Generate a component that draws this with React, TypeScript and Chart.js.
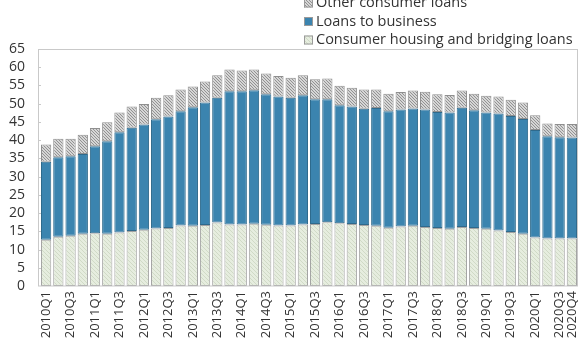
import React, { useEffect, useRef } from "react";
import { Chart, registerables } from "chart.js";

Chart.register(...registerables);

const quarters: string[] = [];
for (let y = 2010; y <= 2020; y++) for (let q = 1; q <= 4; q++) quarters.push(`${y}Q${q}`);

const housing = [
  12.7, 13.5, 13.8, 14.3, 14.5, 14.3, 14.7, 15.1, 15.4, 15.8, 15.9, 16.6, 16.5, 16.7, 17.4, 16.9,
  16.9, 17.1, 16.8, 16.6, 16.6, 16.9, 17.0, 17.5, 17.2, 17.0, 16.7, 16.5, 16.0, 16.3, 16.5, 16.2,
  15.9, 15.7, 16.2, 15.9, 15.7, 15.2, 14.8, 14.3, 13.3, 13.0, 13.0, 13.0,
];
const business = [
  21.4, 21.8, 21.8, 21.9, 23.8, 25.4, 27.5, 28.3, 28.9, 29.9, 30.6, 31.3, 32.5, 33.6, 34.2, 36.5,
  36.5, 36.6, 35.8, 35.4, 35.0, 35.4, 34.2, 33.7, 32.4, 32.2, 31.9, 32.3, 31.9, 32.1, 32.2, 32.2,
  31.8, 31.9, 32.7, 32.3, 31.9, 32.1, 31.8, 31.5, 29.5, 28.1, 27.8, 27.7,
];
const other = [
  4.7, 5.1, 4.8, 5.3, 5.0, 5.2, 5.4, 5.8, 5.6, 5.9, 5.8, 6.0, 5.7, 5.8, 6.2, 6.0,
  5.7, 5.7, 5.7, 5.6, 5.5, 5.5, 5.5, 5.7, 5.3, 5.2, 5.3, 5.1, 4.8, 4.8, 4.9, 4.9,
  4.9, 4.8, 4.7, 4.5, 4.6, 4.7, 4.5, 4.5, 4.0, 3.5, 3.6, 3.7,
];
const seriesNames = ["Consumer housing and bridging loans", "Loans to business", "Other consumer loans"];

const FONT = "'Open Sans', 'Noto Sans', sans-serif";

function makePattern(bg: string, line: string, spacing: number, lw: number): CanvasPattern | string {
  const c = document.createElement("canvas");
  c.width = spacing;
  c.height = spacing;
  const ctx = c.getContext("2d");
  if (!ctx) return bg;
  ctx.fillStyle = bg;
  ctx.fillRect(0, 0, spacing, spacing);
  ctx.strokeStyle = line;
  ctx.lineWidth = lw;
  ctx.beginPath();
  ctx.moveTo(-1, -1);
  ctx.lineTo(spacing + 1, spacing + 1);
  ctx.moveTo(-1, spacing - 1);
  ctx.lineTo(1, spacing + 1);
  ctx.moveTo(spacing - 1, -1);
  ctx.lineTo(spacing + 1, 1);
  ctx.stroke();
  const p = ctx.createPattern(c, "repeat");
  return p || bg;
}

export default function App() {
  const ref = useRef<HTMLCanvasElement | null>(null);
  useEffect(() => {
    document.body.style.margin = "0";
    const canvas = ref.current;
    if (!canvas) return;
    const housingFill = makePattern("#e6eddf", "#d0dac6", 4, 1);
    const otherFill = makePattern("#d6d6d6", "#8a8a8a", 3, 0.9);
    const fills = [housingFill, "#3b84af", otherFill];

    const borderPlugin = {
      id: "frame",
      afterDatasetsDraw(chart: any) {
        const { ctx, chartArea } = chart;
        ctx.save();
        ctx.strokeStyle = "#c9c9c9";
        ctx.lineWidth = 1;
        ctx.strokeRect(chartArea.left - 1.5, chartArea.top + 0.5, chartArea.right - chartArea.left + 1, chartArea.bottom - chartArea.top - 0.5);
        const ys = chart.scales.y;
        ctx.beginPath();
        for (let v = 5; v <= 60; v += 5) {
          const yy = Math.round(ys.getPixelForValue(v)) + 0.5;
          ctx.moveTo(chartArea.left - 2, yy);
          ctx.lineTo(chartArea.left + 1, yy);
        }
        ctx.stroke();
        ctx.restore();
      },
      afterDraw(chart: any) {
        const { ctx } = chart;
        ctx.save();
        const order = [2, 1, 0];
        const x0 = 304;
        const ys = [3, 21.5, 40];
        ctx.font = `14.5px ${FONT}`;
        ctx.textBaseline = "middle";
        order.forEach((di, i) => {
          const y = ys[i];
          ctx.fillStyle = fills[di] as any;
          ctx.fillRect(x0, y - 4.5, 9, 9);
          ctx.strokeStyle = "#9a9a9a";
          ctx.lineWidth = 1;
          ctx.strokeRect(x0 + 0.5, y - 4, 8, 8);
          ctx.fillStyle = "#333333";
          ctx.fillText(seriesNames[di], x0 + 12, y);
        });
        ctx.restore();
      },
    };

    const chart = new Chart(canvas, {
      type: "bar",
      data: {
        labels: quarters,
        datasets: [
          { label: seriesNames[0], data: housing, backgroundColor: fills[0] as any, borderColor: "#a3a3a3", borderWidth: 1, borderSkipped: false },
          { label: seriesNames[1], data: business, backgroundColor: fills[1] as any, borderColor: "#2f6a8c", borderWidth: 1, borderSkipped: false },
          { label: seriesNames[2], data: other, backgroundColor: fills[2] as any, borderColor: "#8f8f8f", borderWidth: 1, borderSkipped: false },
        ],
      },
      options: {
        animation: false,
        responsive: false,
        maintainAspectRatio: false,
        layout: { padding: { top: 49, right: 1, left: 0, bottom: 0 } },
        datasets: { bar: { categoryPercentage: 1, barPercentage: 0.84 } },
        plugins: { legend: { display: false }, tooltip: { enabled: false } },
        scales: {
          x: {
            stacked: true,
            grid: { display: false, drawTicks: false },
            border: { display: false },
            ticks: {
              autoSkip: false,
              maxRotation: 90,
              minRotation: 90,
              padding: 5,
              color: "#333333",
              font: { family: FONT, size: 13 },
              callback: (_v: any, i: number) => (i % 2 === 0 || i === quarters.length - 1 ? quarters[i] : ""),
            },
            afterFit: (s: any) => { s.height = 57; s.paddingRight = 0; s.paddingLeft = 0; },
          },
          y: {
            stacked: true,
            min: 0,
            max: 65,
            grid: { display: false, drawTicks: false },
            border: { display: false },
            ticks: { stepSize: 5, autoSkip: false, padding: 15, color: "#333333", font: { family: FONT, size: 14 } },
            afterFit: (s: any) => { s.width = 40; },
          },
        },
      },
      plugins: [borderPlugin],
    });
    return () => chart.destroy();
  }, []);
  return <canvas ref={ref} width={579} height={343} style={{ display: "block" }} />;
}
